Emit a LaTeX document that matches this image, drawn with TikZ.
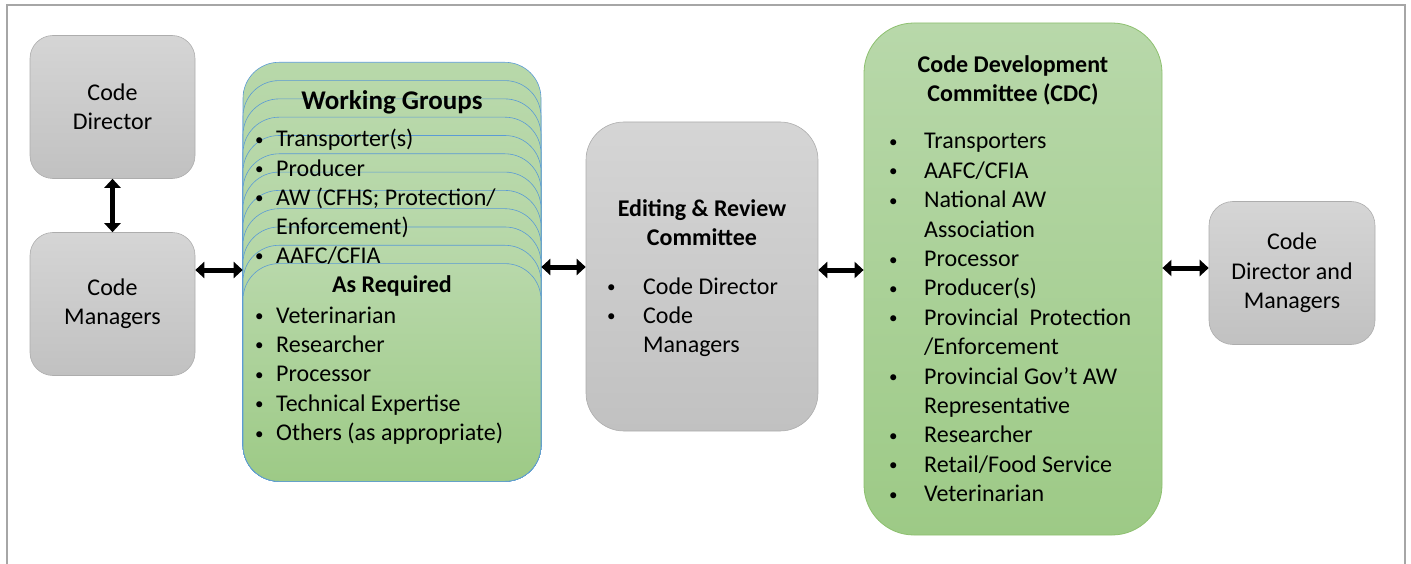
\documentclass[tikz,border=0pt]{standalone}
\usepackage{fontspec}
\setmainfont{Carlito}
\usetikzlibrary{arrows.meta}
\definecolor{grayTop}{HTML}{D5D5D5}
\definecolor{grayBot}{HTML}{C1C1C1}
\definecolor{grayEdge}{HTML}{ADADAD}
\definecolor{greenTop}{HTML}{B8D8AA}
\definecolor{greenBot}{HTML}{9DCA86}
\definecolor{greenEdge}{HTML}{8DC06F}
\definecolor{blueEdge}{HTML}{5B9BD5}
\definecolor{frameGray}{HTML}{A6A6A6}
% small list bullet
\newcommand{\lbul}{\raisebox{1.5pt}{\fontsize{17}{17}\selectfont\textbullet}}

\begin{document}
\begin{tikzpicture}[x=1pt,y=-1pt,
  txt/.style={font=\fontsize{24}{29.4}\selectfont},
  graybox/.style={draw=grayEdge, line width=0.6pt, top color=grayTop, bottom color=grayBot,
    txt, align=center, inner sep=0pt},
  greenbox/.style={draw=greenEdge, line width=0.8pt, top color=greenTop, bottom color=greenBot,
    inner sep=0pt},
  wglayer/.style={draw=blueEdge, line width=0.6pt, top color=greenTop, bottom color=greenBot,
    inner sep=0pt, rounded corners=36pt, minimum width=298pt},
  listtext/.style={txt, anchor=base west, inner sep=0pt},
  headtext/.style={font=\fontsize{24}{29}\selectfont\bfseries, anchor=base, inner sep=0pt},
  link/.style={{Triangle[length=9pt,width=16pt]}-{Triangle[length=9pt,width=16pt]},
    line width=5pt, black}
]
\useasboundingbox (0,0) rectangle (1411,564);

% outer frame, open at the bottom
\draw[frameGray, line width=2pt] (7,564) -- (7,5) -- (1405,5) -- (1405,564);

% left column
\node[graybox, rounded corners=23pt, minimum width=165pt, minimum height=143pt]
  (cd) at (112.5,107) {Code\\Director};
\node[graybox, rounded corners=23pt, minimum width=165pt, minimum height=143pt]
  (cm) at (112.5,304) {Code\\Managers};

% stacked working group cards
\foreach \i in {0,...,11}{
  \pgfmathsetmacro{\layertop}{62+18.3*\i}
  \node[wglayer, minimum height={481-\layertop}, anchor=north] (wg\i) at (392,\layertop) {};
}
\node[headtext, font=\fontsize{27}{32}\selectfont\bfseries] (wgtitle) at (392,110) {Working Groups};
\node[listtext, font=\fontsize{24}{29.1}\selectfont] (wglist) at (255,147) {\begin{tabular}[t]{@{}p{21pt}@{}l@{}}
\lbul & Transporter(s)\\
\lbul & Producer\\
\lbul & AW (CFHS; Protection/\\
      & Enforcement)\\
\lbul & AAFC/CFIA
\end{tabular}};
\node[headtext] (asreq) at (392,292) {As Required};
\node[listtext] (wgextra) at (255,323) {\begin{tabular}[t]{@{}p{21pt}@{}l@{}}
\lbul & Veterinarian\\
\lbul & Researcher\\
\lbul & Processor\\
\lbul & Technical Expertise\\
\lbul & Others (as appropriate)
\end{tabular}};

% editing & review committee
\node[graybox, rounded corners=38pt, minimum width=232pt, minimum height=309pt]
  (erc) at (702,276.5) {};
\node[headtext] (erctitle) at (702,217) {\begin{tabular}[t]{@{}c@{}}
Editing \& Review\\ Committee
\end{tabular}};
\node[listtext] (erclist) at (607,294) {\begin{tabular}[t]{@{}p{36pt}@{}l@{}}
\lbul & Code Director\\
\lbul & Code\\
      & Managers
\end{tabular}};

% code development committee
\node[greenbox, rounded corners=50pt, minimum width=298pt, minimum height=512pt]
  (cdc) at (1013,279) {};
\node[headtext] (cdctitle) at (1013,73) {\begin{tabular}[t]{@{}c@{}}
Code Development\\ Committee (CDC)
\end{tabular}};
\node[listtext] (cdclist) at (889,149) {\begin{tabular}[t]{@{}p{35pt}@{}l@{}}
\lbul & Transporters\\
\lbul & AAFC/CFIA\\
\lbul & National AW\\
      & Association\\
\lbul & Processor\\
\lbul & Producer(s)\\
\lbul & Provincial~ Protection\\
      & /Enforcement\\
\lbul & Provincial Gov’t AW\\
      & Representative\\
\lbul & Researcher\\
\lbul & Retail/Food Service\\
\lbul & Veterinarian
\end{tabular}};

% right column
\node[graybox, rounded corners=24pt, minimum width=166pt, minimum height=143pt]
  (cdm) at (1292,273) {Code\\Director and\\Managers};

% connectors
\coordinate (rowa) at (0,270);
\coordinate (rowb) at (0,267);
\coordinate (rowc) at (0,268);
\draw[link] (cd.south) -- (cm.north);
\draw[link] (cm.east |- rowa) -- (wg0.west |- rowa);
\draw[link] (wg0.east |- rowb) -- (erc.west |- rowb);
\draw[link] (erc.east |- rowa) -- (cdc.west |- rowa);
\draw[link] (cdc.east |- rowc) -- (cdm.west |- rowc);
\end{tikzpicture}
\end{document}
